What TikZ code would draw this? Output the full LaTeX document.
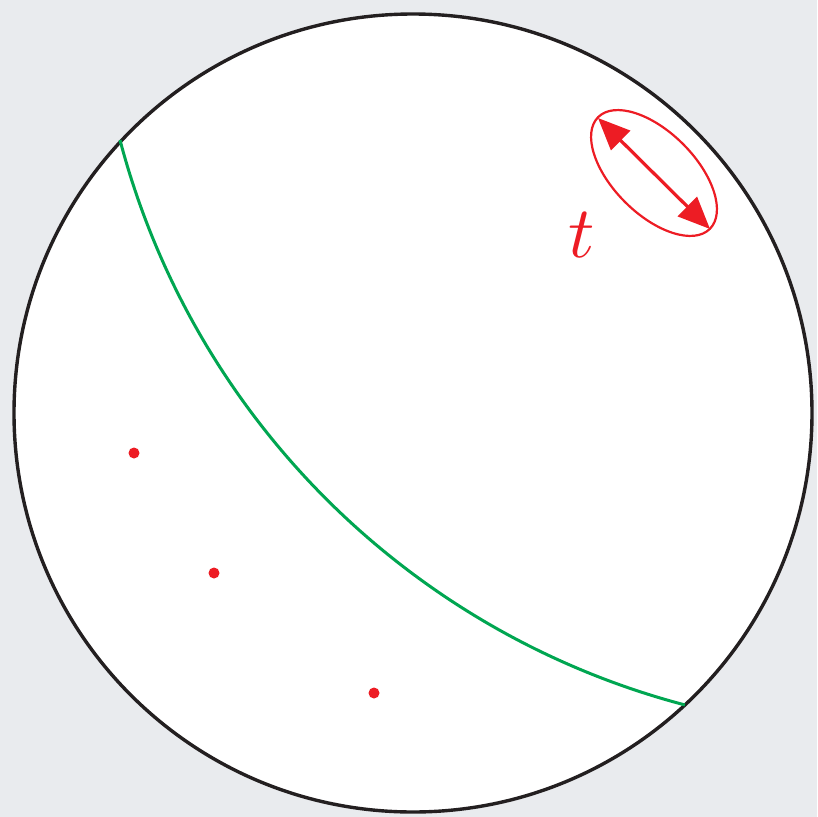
\documentclass[tikz,border=0pt]{standalone}
\usetikzlibrary{arrows.meta}
\definecolor{bgc}{HTML}{E9EBEE}
\definecolor{rd}{HTML}{ED1C24}
\definecolor{gr}{HTML}{00A651}
\definecolor{bk}{HTML}{231F20}
\tikzset{
  reddot/.style={circle,fill=rd,inner sep=0pt,minimum size=11pt},
  disk/.style={draw=bk,fill=white,line width=3.4pt},
  geod/.style={draw=gr,line width=3pt},
  tarrow/.style={draw=rd,line width=3.2pt,{Triangle[length=32pt,width=27pt]}-{Triangle[length=32pt,width=27pt]}},
  tell/.style={draw=rd,line width=2.2pt},
}
\begin{document}
\begin{tikzpicture}[x=1pt,y=1pt]
\fill[bgc] (0,0) rectangle (817,-817);
\useasboundingbox (0,0) rectangle (817,-817);
\coordinate (C) at (413,-413);
\path[disk] (C) circle[radius=399pt];
% green arc
\coordinate (A) at (120,-140);
\draw[geod] (A) arc[start angle=194.73, end angle=255.27, radius=792.5pt];
% dots
\node[reddot] (d1) at (134,-453) {};
\node[reddot] (d2) at (214,-573) {};
\node[reddot] (d3) at (374,-693) {};
% ellipse and arrow
\coordinate (E) at (654,-173);
\draw[tell] (E) ellipse[x radius=79pt, y radius=41pt, rotate=-45];
\coordinate (P) at (598,-118);
\coordinate (Q) at (710,-229);
\draw[tarrow] (P) -- (Q);
\node[text=rd,inner sep=0pt,scale=7.3] (t) at (582,-235) {$t$};
\end{tikzpicture}
\end{document}
